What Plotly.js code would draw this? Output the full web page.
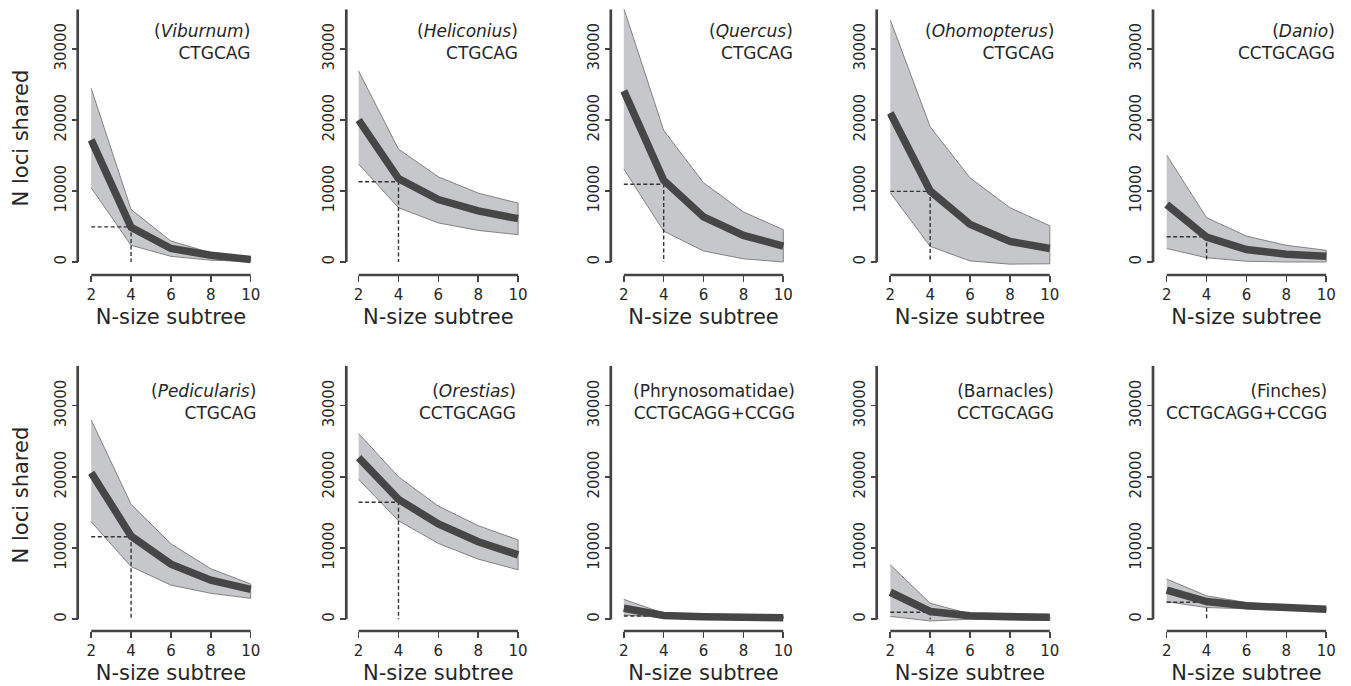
<!DOCTYPE html>
<html>
<head>
<meta charset="utf-8">
<script src="https://cdn.plot.ly/plotly-3.0.1.min.js"></script>
<style>html,body{margin:0;padding:0;background:#fff;}#chart{width:1351px;height:686px;}</style>
</head>
<body>
<div id="chart"></div>
<script>
// ---------------- data ----------------
const subtreeSizes = [2, 4, 6, 8, 10];
const yTickValues = [0, 10000, 20000, 30000];

const taxa = ['Viburnum', 'Heliconius', 'Quercus', 'Ohomopterus', 'Danio',
              'Pedicularis', 'Orestias', 'Phrynosomatidae', 'Barnacles', 'Finches'];
const taxaItalic = [true, true, true, true, true, true, true, false, false, false];
const enzymes = ['CTGCAG', 'CTGCAG', 'CTGCAG', 'CTGCAG', 'CCTGCAGG',
                 'CTGCAG', 'CCTGCAGG', 'CCTGCAGG+CCGG', 'CCTGCAGG', 'CCTGCAGG+CCGG'];

const meanShared = [
  [17200, 4900, 1900, 950, 350],
  [20000, 11750, 8800, 7200, 6100],
  [24100, 11500, 6350, 3750, 2250],
  [21000, 10000, 5300, 2900, 1900],
  [8100, 3500, 1750, 1100, 800],
  [20600, 11700, 7750, 5500, 4200],
  [22700, 16850, 13400, 10900, 9050],
  [1550, 550, 370, 280, 230],
  [3800, 1100, 500, 330, 280],
  [4100, 2500, 1900, 1650, 1400]
];
const upperShared = [
  [24450, 7400, 2950, 1300, 700],
  [26900, 15900, 12000, 9700, 8300],
  [35700, 18550, 11150, 7050, 4550],
  [34100, 19050, 11850, 7650, 5100],
  [15050, 6250, 3650, 2350, 1650],
  [28000, 16150, 10600, 7100, 4950],
  [26100, 20000, 15900, 13150, 11150],
  [2800, 850, 560, 470, 470],
  [7650, 2250, 750, 560, 470],
  [5650, 3300, 2350, 1900, 1700]
];
const lowerShared = [
  [10450, 2350, 800, 250, 80],
  [13800, 7650, 5500, 4450, 3850],
  [13100, 4350, 1550, 450, 0],
  [9750, 2200, 150, -300, -250],
  [1900, 600, 100, 0, 0],
  [13700, 7400, 4800, 3650, 2950],
  [19650, 13850, 10650, 8450, 6950],
  [600, 280, 100, 90, 90],
  [400, -230, 0, -100, -180],
  [2480, 1650, 1500, 1300, 1080]
];
// value marked by the dashed guide at subtree size 4
const guideShared = [4950, 11300, 10950, 9950, 3550, 11600, 16450, 470, 1000, 2400];
const guideSize = 4;

// ---------------- layout geometry ----------------
const W = 1351, H = 686;
const colX2 = [91.2, 358.6, 623.8, 890.3, 1166.7];   // pixel of x=2
const colSpine = [77.7, 346.3, 610.8, 876.7, 1153.0]; // pixel of y spine
const xSpan = 159.5;                                   // pixels from x=2 to x=10
const xRange = [1.85, 10.15];
const yRange = [-700, 35600];
const rowZero = [262.0, 619.3];       // pixel of y=0
const rowPxPer = [0.0071, 0.00712];   // pixels per unit
const rowXSpine = [275.0, 631.0];
const labelRight = [[251.7, 520, 795, 1056, 1336.7], [258.3, 518.3, 797.3, 1055.7, 1329.3]];
const labelMid = [41.7, 402.1];

const dark = '#444444';
const textCol = '#262626';
const font = '"DejaVu Sans", "Bitstream Vera Sans", sans-serif';

const traces = [];
const layout = {
  width: W, height: H,
  margin: {l: 0, r: 0, t: 0, b: 0},
  paper_bgcolor: '#ffffff', plot_bgcolor: 'rgba(0,0,0,0)',
  showlegend: false,
  font: {family: font, color: textCol},
  shapes: [], annotations: []
};

for (let i = 0; i < 10; i++) {
  const row = Math.floor(i / 5), col = i % 5, n = i + 1;
  const xa = 'x' + (n > 1 ? n : ''), ya = 'y' + (n > 1 ? n : '');
  const xKey = 'xaxis' + (n > 1 ? n : ''), yKey = 'yaxis' + (n > 1 ? n : '');
  const ppu = xSpan / 8;
  const dl = colX2[col] - (2 - xRange[0]) * ppu;
  const dr = colX2[col] + xSpan + (xRange[1] - 10) * ppu;
  const topPx = rowZero[row] - yRange[1] * rowPxPer[row];
  const botPx = rowZero[row] - yRange[0] * rowPxPer[row];

  layout[xKey] = {
    domain: [dl / W, dr / W], range: xRange, anchor: 'free',
    position: 1 - rowXSpine[row] / H,
    showline: false, showgrid: false, zeroline: false,
    ticks: 'outside', ticklen: 6, tickwidth: 1.6, tickcolor: dark,
    tickvals: subtreeSizes, tickfont: {size: 15, color: textCol, family: font},
    title: {text: 'N-size subtree', font: {size: 21, color: textCol, family: font}, standoff: 6},
    automargin: false, fixedrange: true
  };
  layout[yKey] = {
    domain: [1 - botPx / H, 1 - topPx / H], range: yRange, anchor: 'free',
    position: colSpine[col] / W,
    showline: false, showgrid: false, zeroline: false,
    ticks: 'outside', ticklen: 6, tickwidth: 1.6, tickcolor: dark,
    tickvals: yTickValues, tickformat: 'd', tickangle: -90,
    tickfont: {size: 15, color: textCol, family: font},
    title: col === 0 ? {text: 'N loci shared', font: {size: 21, color: textCol, family: font}, standoff: 16} : {text: ''},
    automargin: false, fixedrange: true
  };

  // spines
  layout.shapes.push({type: 'line', xref: 'paper', yref: ya,
    x0: colSpine[col] / W, x1: colSpine[col] / W, y0: 0, y1: yRange[1],
    line: {color: dark, width: 2.7}});
  layout.shapes.push({type: 'line', xref: xa, yref: 'paper',
    x0: subtreeSizes[0], x1: subtreeSizes[subtreeSizes.length - 1],
    y0: 1 - rowXSpine[row] / H, y1: 1 - rowXSpine[row] / H,
    line: {color: dark, width: 2.7}});

  // band polygon
  const bx = subtreeSizes.concat(subtreeSizes.slice().reverse());
  const by = upperShared[i].concat(lowerShared[i].slice().reverse());
  traces.push({x: bx, y: by, xaxis: xa, yaxis: ya, type: 'scatter', mode: 'lines',
    fill: 'toself', fillcolor: 'rgba(160,162,166,0.6)',
    line: {color: 'rgba(120,120,120,0.9)', width: 1}, hoverinfo: 'skip'});

  // dashed guides
  traces.push({x: [subtreeSizes[0], guideSize, guideSize], y: [guideShared[i], guideShared[i], 0],
    xaxis: xa, yaxis: ya, type: 'scatter', mode: 'lines',
    line: {color: '#333333', width: 1.4, dash: '4px,2.5px'}, hoverinfo: 'skip'});

  // mean line
  traces.push({x: subtreeSizes, y: meanShared[i], xaxis: xa, yaxis: ya, type: 'scatter',
    mode: 'lines', line: {color: '#464646', width: 7.5}, hoverinfo: 'skip'});

  // label
  const name = taxaItalic[i] ? '(<i>' + taxa[i] + '</i>)' : '(' + taxa[i] + ')';
  layout.annotations.push({xref: 'paper', yref: 'paper',
    x: labelRight[row][col] / W, y: 1 - labelMid[row] / H,
    xanchor: 'right', yanchor: 'middle', align: 'right', showarrow: false,
    text: name + '<br>' + enzymes[i], font: {size: 17, color: textCol, family: font}});
}

Plotly.newPlot('chart', traces, layout, {staticPlot: true, displayModeBar: false});
</script>
</body>
</html>
